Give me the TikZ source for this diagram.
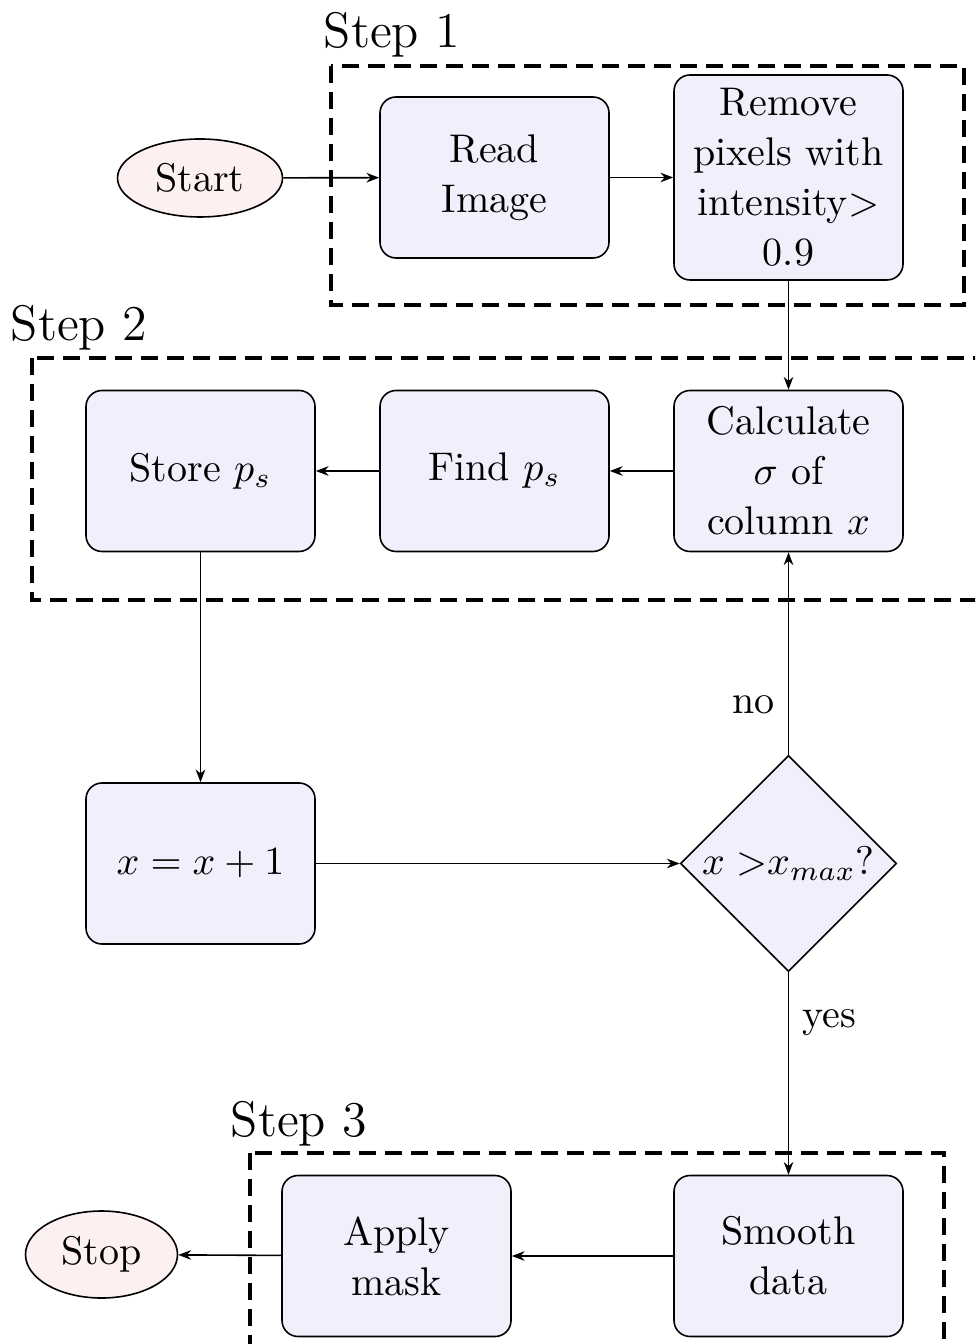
\documentclass[tikz,border=0pt]{standalone}
\usetikzlibrary{shapes.geometric,arrows.meta}
\definecolor{boxfill}{RGB}{240,240,253}
\definecolor{termfill}{RGB}{252,240,240}
\tikzset{
  x=0.25pt, y=-0.25pt,
  every node/.style={font=\fontsize{10}{12.5}\selectfont},
  process/.style={draw, rounded corners=4pt, fill=boxfill, align=center,
    minimum width=57.25pt, minimum height=40.25pt, inner sep=3pt, line width=0.4pt},
  terminal/.style={draw, ellipse, fill=termfill, inner sep=0pt, line width=0.4pt},
  decision/.style={draw, diamond, aspect=1, fill=boxfill, inner sep=0pt,
    minimum width=54pt, minimum height=54pt, line width=0.4pt},
  flow/.style={-{Stealth[length=3.2pt,width=2.4pt]}, line width=0.4pt},
  stageframe/.style={line width=1pt, dash pattern=on 4.25pt off 2.25pt},
  stagelabel/.style={anchor=base west, inner sep=0pt, font=\fontsize{12.5}{15}\selectfont}
}
\begin{document}
\begin{tikzpicture}
  \useasboundingbox (0,0) rectangle (975,1344);
  \clip (0,0) rectangle (975,1344);

  % dashed stage frames and their titles
  \draw[stageframe] (331,66) rectangle (964,305);
  \draw[stageframe] (32,358) rectangle (1010,600);
  \draw[stageframe] (250,1153) rectangle (944,1380);
  \node[stagelabel] (lab1) at (323,48) {Step 1};
  \node[stagelabel] (lab2) at (10,341) {Step 2};
  \node[stagelabel] (lab3) at (230,1136) {Step 3};

  % nodes
  \node[terminal, minimum width=41.25pt, minimum height=19.5pt] (start) at (200,178) {Start};
  \node[process] (read) at (494.5,177.5) {Read\\Image};
  \node[process, minimum height=51.25pt] (remove) at (788.5,177.5) {Remove\\pixels with\\intensity$>$\\0.9};
  \node[process] (calc) at (788.5,471) {Calculate\\$\sigma$ of\\column $x$};
  \node[process] (find) at (494.5,471) {Find $p_s$};
  \node[process] (store) at (200.5,471) {Store $p_s$};
  \node[process] (incr) at (200.5,863.5) {$x=x+1$};
  \node[decision] (test) at (788.5,863.5) {$x >$$x_{max}$?};
  \node[process] (smooth) at (788.5,1256) {Smooth\\data};
  \node[process] (apply) at (396.5,1256) {Apply\\mask};
  \node[terminal, minimum width=38pt, minimum height=21.75pt] (stop) at (101.5,1254.5) {Stop};

  % connectors
  \draw[flow] (start) -- (read);
  \draw[flow] (read) -- (remove);
  \draw[flow] (remove) -- (calc);
  \draw[flow] (calc) -- (find);
  \draw[flow] (find) -- (store);
  \draw[flow] (store) -- (incr);
  \draw[flow] (incr) -- (test);
  \draw[flow] (test) -- node[left, pos=0.245] (nolab) {no} (calc);
  \draw[flow] (test) -- node[right, pos=0.25] (yeslab) {yes} (smooth);
  \draw[flow] (smooth) -- (apply);
  \draw[flow] (apply) -- (stop);
\end{tikzpicture}
\end{document}
